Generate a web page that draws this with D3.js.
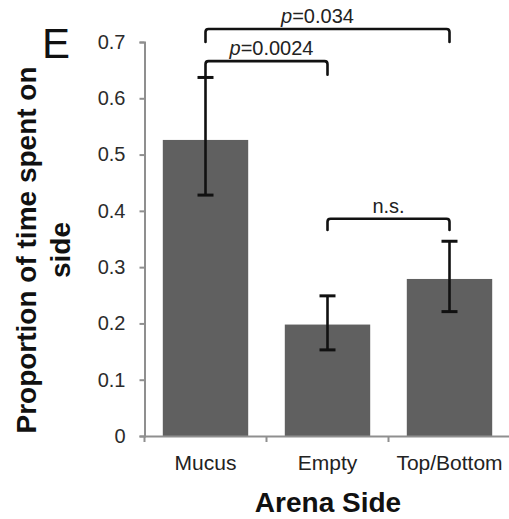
<!DOCTYPE html>
<html>
<head>
<meta charset="utf-8">
<script src="https://cdn.jsdelivr.net/npm/d3@7/dist/d3.min.js"></script>
<style>
  html, body { margin: 0; padding: 0; background: #fff; }
  svg { display: block; font-family: "Liberation Sans", Arial, sans-serif; }
</style>
</head>
<body>
<svg id="chart" width="509" height="519"></svg>
<script>
// Proportion of time spent on each arena side (mean with error range)
const categories = ["Mucus", "Empty", "Top/Bottom"];
const means      = [0.526, 0.198, 0.279];
const errLow     = [0.428, 0.153, 0.221];
const errHigh    = [0.637, 0.249, 0.346];
const yTicks     = [0, 0.1, 0.2, 0.3, 0.4, 0.5, 0.6, 0.7];

// Significance brackets: pair of categories, bar level, leg ends, label
const bracketFrom  = ["Mucus", "Mucus", "Empty"];
const bracketTo    = ["Top/Bottom", "Empty", "Top/Bottom"];
const bracketLevel = [0.723, 0.666, 0.386];
const bracketLegL  = [0.700, 0.637, 0.366];
const bracketLegR  = [0.700, 0.642, 0.366];
const bracketP     = ["0.034", "0.0024", null];

const svg = d3.select("#chart");
const W = 509, H = 519;
svg.append("rect").attr("width", W).attr("height", H).attr("fill", "#fff");

const x = d3.scaleBand().domain(categories).range([144.5, 510.5])
  .paddingInner(0.3).paddingOuter(0.15);
const y = d3.scaleLinear().domain([0, 0.7]).range([436, 42]);
const cx = c => x(c) + x.bandwidth() / 2;

const axisColor = "#8f8f8f";

// Bars
svg.append("g").selectAll("rect").data(categories).join("rect")
  .attr("x", d => x(d))
  .attr("width", x.bandwidth())
  .attr("y", (d, i) => y(means[i]))
  .attr("height", (d, i) => y(0) - y(means[i]))
  .attr("fill", "#606060");

// Y axis
const yAxis = svg.append("g").attr("transform", `translate(${x.range()[0]},0)`)
  .call(d3.axisLeft(y).tickValues(yTicks).tickSize(5).tickPadding(14)
    .tickFormat(d => d === 0 ? "0" : d3.format(".1f")(d)));
yAxis.select(".domain").attr("stroke", axisColor).attr("stroke-width", 2);
yAxis.selectAll(".tick line").attr("stroke", axisColor).attr("stroke-width", 2);
yAxis.selectAll(".tick text").attr("font-size", 20).attr("fill", "#2b2b2b")
  .attr("font-family", "Liberation Sans, Arial, sans-serif");

// X axis with ticks at the category boundaries
const xAxis = svg.append("g").attr("transform", `translate(0,${y(0)})`)
  .call(d3.axisBottom(x).tickSize(0).tickPadding(19));
xAxis.select(".domain").attr("stroke", axisColor).attr("stroke-width", 2);
xAxis.selectAll(".tick text").attr("font-size", 21).attr("fill", "#222")
  .attr("font-family", "Liberation Sans, Arial, sans-serif");
const bounds = categories.map(c => x(c) - x.step() * x.paddingInner() / 2);
bounds[0] = x.range()[0];
bounds.push(x.range()[1]);
svg.append("g").selectAll("line").data(bounds).join("line")
  .attr("x1", d => d).attr("x2", d => d)
  .attr("y1", y(0)).attr("y2", y(0) + 6)
  .attr("stroke", axisColor).attr("stroke-width", 2);

// Error bars
const eb = svg.append("g").attr("stroke", "#111").attr("stroke-width", 2.6);
categories.forEach((c, i) => {
  eb.append("line").attr("x1", cx(c)).attr("x2", cx(c))
    .attr("y1", y(errLow[i])).attr("y2", y(errHigh[i]));
  [errLow[i], errHigh[i]].forEach(v => {
    eb.append("line").attr("x1", cx(c) - 8).attr("x2", cx(c) + 8)
      .attr("y1", y(v)).attr("y2", y(v)).attr("stroke-width", 3);
  });
});

// Significance brackets with rounded corners
const br = svg.append("g");
bracketFrom.forEach((from, i) => {
  const x1 = cx(from), x2 = cx(bracketTo[i]);
  const yl = y(bracketLevel[i]), r = 3;
  const p = d3.path();
  p.moveTo(x1, y(bracketLegL[i]));
  p.lineTo(x1, yl + r);
  p.quadraticCurveTo(x1, yl, x1 + r, yl);
  p.lineTo(x2 - r, yl);
  p.quadraticCurveTo(x2, yl, x2, yl + r);
  p.lineTo(x2, y(bracketLegR[i]));
  br.append("path").attr("d", p.toString()).attr("fill", "none")
    .attr("stroke", "#111").attr("stroke-width", 2.6).attr("stroke-linecap", "round");

  const t = br.append("text").attr("y", yl - 6).attr("font-size", 20).attr("fill", "#222")
    .attr("text-anchor", "middle");
  if (bracketP[i]) {
    t.attr("x", (x1 + x2) / 2 - (i === 0 ? 10 : -5));
    t.append("tspan").attr("font-style", "italic").text("p");
    t.append("tspan").text("=" + bracketP[i]);
  } else {
    t.attr("x", (x1 + x2) / 2).text("n.s.");
  }
});

// Panel letter
svg.append("text").attr("x", 42).attr("y", 58).attr("font-size", 42)
  .attr("fill", "#111").text("E");

// Axis titles
const yt = svg.append("text").attr("transform", "translate(0,250) rotate(-90)")
  .attr("text-anchor", "middle").attr("font-size", 28).attr("font-weight", "bold")
  .attr("fill", "#111");
yt.append("tspan").attr("x", 0).attr("y", 36).text("Proportion of time spent on");
yt.append("tspan").attr("x", 0).attr("y", 70).text("side");

svg.append("text").attr("x", 328).attr("y", 512).attr("text-anchor", "middle")
  .attr("font-size", 28).attr("font-weight", "bold").attr("fill", "#111")
  .text("Arena Side");
</script>
</body>
</html>
